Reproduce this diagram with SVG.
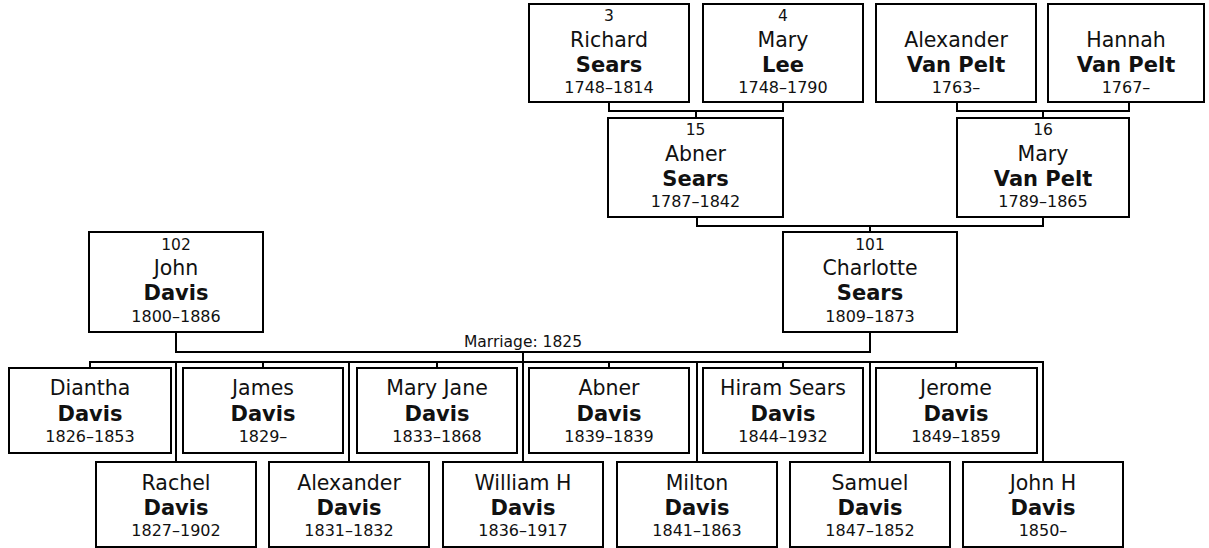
<svg xmlns="http://www.w3.org/2000/svg" width="1209" height="548" viewBox="0 0 1209 548">
<style>
.box{fill:#fff;stroke:#000;stroke-width:2}
.ln{fill:none;stroke:#000;stroke-width:2}
text{font-family:"DejaVu Sans",Verdana,sans-serif;fill:#111;text-anchor:middle}
.num{font-size:15.5px}
.fn{font-size:20.5px}
.sn{font-size:21px;font-weight:bold}
.dt{font-size:16px}
.mar{font-size:15.5px}
</style>
<rect width="1209" height="548" fill="#fff"/>
<g id="connectors">
<path class="ln" d="M609,102V111H783V102M696,111V118"/>
<path class="ln" d="M957,102V111H1129V102M1043,111V118"/>
<path class="ln" d="M697,217V226H1043V217M870,226V232"/>
<path class="ln" d="M176,332V352H870V332M523,352V462"/>
<path class="ln" d="M90,368V362H1043V462M263,362V368M437,362V368M609,362V368M783,362V368M956,362V368"/>
<path class="ln" d="M176,362V462M349,362V462M697,362V462M870,362V462"/>
<text class="mar" x="523" y="347">Marriage: 1825</text>
</g>
<g id="p3"><rect class="box" x="529" y="4" width="160" height="98"/><text class="num" x="609" y="21">3</text><text class="fn" x="609" y="47">Richard</text><text class="sn" x="609" y="72">Sears</text><text class="dt" x="609" y="93">1748–1814</text></g>
<g id="p4"><rect class="box" x="703" y="4" width="160" height="98"/><text class="num" x="783" y="21">4</text><text class="fn" x="783" y="47">Mary</text><text class="sn" x="783" y="72">Lee</text><text class="dt" x="783" y="93">1748–1790</text></g>
<g id="pAlex"><rect class="box" x="876" y="4" width="160" height="98"/><text class="fn" x="956" y="47">Alexander</text><text class="sn" x="956" y="72">Van Pelt</text><text class="dt" x="956" y="93">1763–</text></g>
<g id="pHannah"><rect class="box" x="1048" y="4" width="156" height="98"/><text class="fn" x="1126" y="47">Hannah</text><text class="sn" x="1126" y="72">Van Pelt</text><text class="dt" x="1126" y="93">1767–</text></g>
<g id="p15"><rect class="box" x="608" y="118" width="175" height="99"/><text class="num" x="695.5" y="135">15</text><text class="fn" x="695.5" y="161">Abner</text><text class="sn" x="695.5" y="186">Sears</text><text class="dt" x="695.5" y="207">1787–1842</text></g>
<g id="p16"><rect class="box" x="957" y="118" width="172" height="99"/><text class="num" x="1043" y="135">16</text><text class="fn" x="1043" y="161">Mary</text><text class="sn" x="1043" y="186">Van Pelt</text><text class="dt" x="1043" y="207">1789–1865</text></g>
<g id="p102"><rect class="box" x="89" y="232" width="174" height="100"/><text class="num" x="176" y="250">102</text><text class="fn" x="176" y="275">John</text><text class="sn" x="176" y="300">Davis</text><text class="dt" x="176" y="322">1800–1886</text></g>
<g id="p101"><rect class="box" x="783" y="232" width="174" height="100"/><text class="num" x="870" y="250">101</text><text class="fn" x="870" y="275">Charlotte</text><text class="sn" x="870" y="300">Sears</text><text class="dt" x="870" y="322">1809–1873</text></g>
<g id="cDiantha"><rect class="box" x="9" y="368" width="162" height="85"/><text class="fn" x="90" y="395">Diantha</text><text class="sn" x="90" y="421">Davis</text><text class="dt" x="90" y="442">1826–1853</text></g>
<g id="cJames"><rect class="box" x="183" y="368" width="160" height="85"/><text class="fn" x="263" y="395">James</text><text class="sn" x="263" y="421">Davis</text><text class="dt" x="263" y="442">1829–</text></g>
<g id="cMaryJane"><rect class="box" x="357" y="368" width="160" height="85"/><text class="fn" x="437" y="395">Mary Jane</text><text class="sn" x="437" y="421">Davis</text><text class="dt" x="437" y="442">1833–1868</text></g>
<g id="cAbner"><rect class="box" x="529" y="368" width="160" height="85"/><text class="fn" x="609" y="395">Abner</text><text class="sn" x="609" y="421">Davis</text><text class="dt" x="609" y="442">1839–1839</text></g>
<g id="cHiram"><rect class="box" x="703" y="368" width="160" height="85"/><text class="fn" x="783" y="395">Hiram Sears</text><text class="sn" x="783" y="421">Davis</text><text class="dt" x="783" y="442">1844–1932</text></g>
<g id="cJerome"><rect class="box" x="876" y="368" width="161" height="85"/><text class="fn" x="956" y="395">Jerome</text><text class="sn" x="956" y="421">Davis</text><text class="dt" x="956" y="442">1849–1859</text></g>
<g id="cRachel"><rect class="box" x="96" y="462" width="160" height="85"/><text class="fn" x="176" y="490">Rachel</text><text class="sn" x="176" y="515">Davis</text><text class="dt" x="176" y="536">1827–1902</text></g>
<g id="cAlexander"><rect class="box" x="269" y="462" width="160" height="85"/><text class="fn" x="349" y="490">Alexander</text><text class="sn" x="349" y="515">Davis</text><text class="dt" x="349" y="536">1831–1832</text></g>
<g id="cWilliam"><rect class="box" x="443" y="462" width="160" height="85"/><text class="fn" x="523" y="490">William H</text><text class="sn" x="523" y="515">Davis</text><text class="dt" x="523" y="536">1836–1917</text></g>
<g id="cMilton"><rect class="box" x="617" y="462" width="160" height="85"/><text class="fn" x="697" y="490">Milton</text><text class="sn" x="697" y="515">Davis</text><text class="dt" x="697" y="536">1841–1863</text></g>
<g id="cSamuel"><rect class="box" x="790" y="462" width="160" height="85"/><text class="fn" x="870" y="490">Samuel</text><text class="sn" x="870" y="515">Davis</text><text class="dt" x="870" y="536">1847–1852</text></g>
<g id="cJohnH"><rect class="box" x="963" y="462" width="160" height="85"/><text class="fn" x="1043" y="490">John H</text><text class="sn" x="1043" y="515">Davis</text><text class="dt" x="1043" y="536">1850–</text></g>
</svg>
